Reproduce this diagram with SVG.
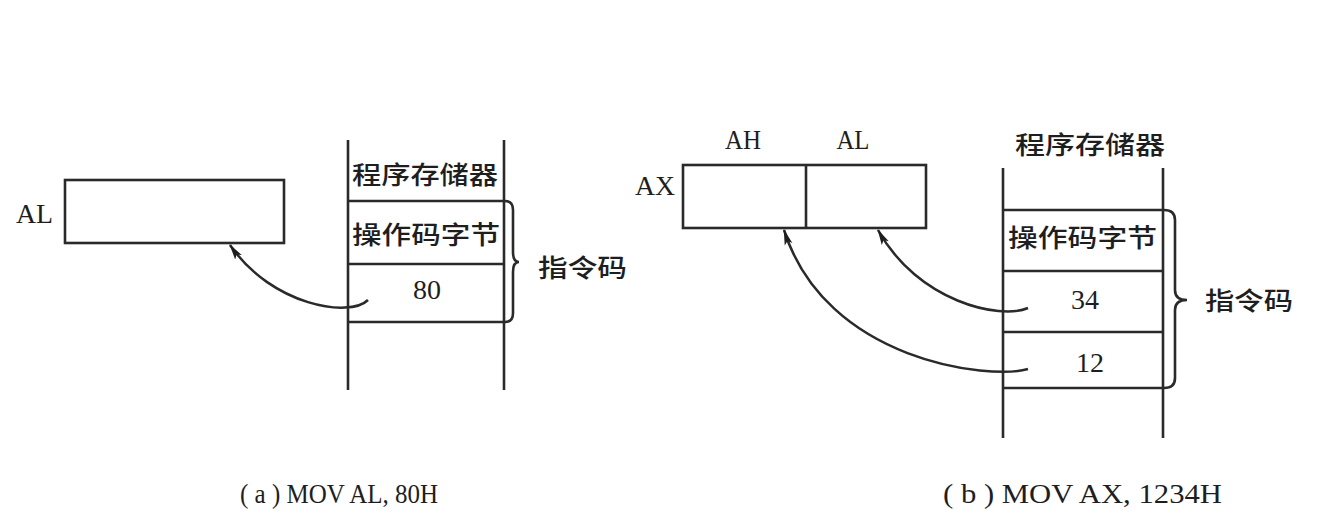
<svg xmlns="http://www.w3.org/2000/svg" width="1320" height="517" viewBox="0 0 1320 517">
<style>
.ln{stroke:#2a2a2a;stroke-width:2.6;fill:none}
.box{stroke:#2a2a2a;stroke-width:2.6;fill:#fff}
.t{font-family:"Liberation Serif","Noto Sans CJK SC",serif;fill:#1e1e1e;font-size:27px}
.cn{font-family:"Noto Sans CJK SC","Liberation Serif",sans-serif;fill:#1e1e1e;font-size:25px;font-weight:500}
.conn{stroke:#2a2a2a;stroke-width:2.5;fill:none;marker-end:url(#ah)}
</style>
<defs>
<marker id="ah" viewBox="0 0 16 9" refX="15" refY="4.5" markerWidth="16" markerHeight="9" markerUnits="userSpaceOnUse" orient="auto">
<path d="M0,0.5 L16,4.5 L0,8.5 L3.5,4.5 z" fill="#1e1e1e"/>
</marker>
</defs>
<rect width="1320" height="517" fill="#fff"/>

<g id="reg-al-a">
<rect class="box" x="65" y="180" width="219" height="63"/>
<text class="t" x="16" y="223" textLength="37" lengthAdjust="spacingAndGlyphs">AL</text>
</g>

<g id="mem-a">
<line class="ln" x1="348" y1="140" x2="348" y2="390"/>
<line class="ln" x1="504" y1="140" x2="504" y2="390"/>
<line class="ln" x1="348" y1="201" x2="504" y2="201"/>
<line class="ln" x1="348" y1="264" x2="504" y2="264"/>
<line class="ln" x1="348" y1="322" x2="504" y2="322"/>
<text class="cn" x="352" y="184" textLength="146" lengthAdjust="spacingAndGlyphs">程序存储器</text>
<text class="cn" x="352" y="244" textLength="148" lengthAdjust="spacingAndGlyphs">操作码字节</text>
<text class="t" x="427" y="299" text-anchor="middle" textLength="28" lengthAdjust="spacingAndGlyphs">80</text>
<path class="ln" d="M505,201 Q513,201 513,210 L513,252 Q513,262 519,262 Q513,262 513,272 L513,313 Q513,322 505,322"/>
<text class="cn" x="538" y="277" textLength="89" lengthAdjust="spacingAndGlyphs">指令码</text>
</g>

<g id="reg-ax-b">
<rect class="box" x="683" y="165" width="243" height="63"/>
<line class="ln" x1="806" y1="165" x2="806" y2="228"/>
<text class="t" x="635" y="195" textLength="40" lengthAdjust="spacingAndGlyphs">AX</text>
<text class="t" x="743" y="149" text-anchor="middle" textLength="36" lengthAdjust="spacingAndGlyphs">AH</text>
<text class="t" x="853" y="149" text-anchor="middle" textLength="33" lengthAdjust="spacingAndGlyphs">AL</text>
</g>

<g id="mem-b">
<line class="ln" x1="1003" y1="168" x2="1003" y2="438"/>
<line class="ln" x1="1163" y1="168" x2="1163" y2="438"/>
<line class="ln" x1="1003" y1="210" x2="1163" y2="210"/>
<line class="ln" x1="1003" y1="271" x2="1163" y2="271"/>
<line class="ln" x1="1003" y1="332" x2="1163" y2="332"/>
<line class="ln" x1="1003" y1="388" x2="1163" y2="388"/>
<text class="cn" x="1015" y="154" textLength="150" lengthAdjust="spacingAndGlyphs">程序存储器</text>
<text class="cn" x="1008" y="247" textLength="149" lengthAdjust="spacingAndGlyphs">操作码字节</text>
<text class="t" x="1085" y="309" text-anchor="middle" textLength="28" lengthAdjust="spacingAndGlyphs">34</text>
<text class="t" x="1090" y="372" text-anchor="middle" textLength="28" lengthAdjust="spacingAndGlyphs">12</text>
<path class="ln" d="M1164,210 Q1175,210 1175,220 L1175,290 Q1175,300 1187,300 Q1175,300 1175,310 L1175,378 Q1175,388 1164,388"/>
<text class="cn" x="1205" y="310" textLength="88" lengthAdjust="spacingAndGlyphs">指令码</text>
</g>

<g id="connectors">
<path class="conn" d="M368,300 C350,318 272,306 230,245"/>
<path class="conn" d="M1028,308 C1000,320 918,302 878,230"/>
<path class="conn" d="M1028,369 C990,380 826,362 784,230"/>
</g>

<g id="captions">
<text class="t" x="240" y="503" font-size="26" textLength="198" lengthAdjust="spacingAndGlyphs">( a ) MOV AL, 80H</text>
<text class="t" x="943" y="503" font-size="26" textLength="279" lengthAdjust="spacingAndGlyphs">( b ) MOV AX, 1234H</text>
</g>
</svg>
